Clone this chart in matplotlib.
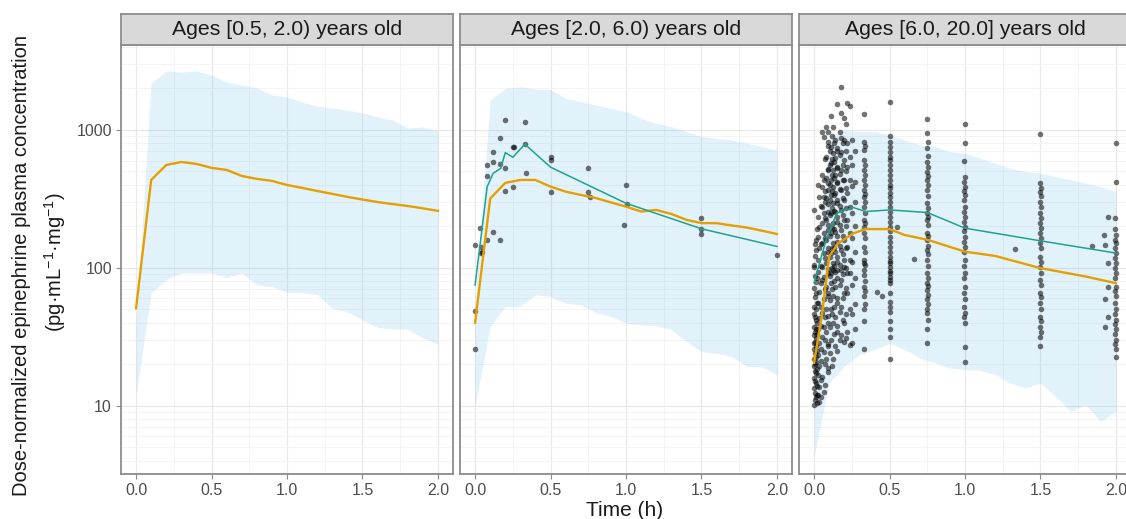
import matplotlib
matplotlib.use("Agg")
import matplotlib.pyplot as plt
from matplotlib.ticker import FixedLocator, LogLocator, NullFormatter

plt.rcParams["font.family"] = ["Liberation Sans", "DejaVu Sans"]
plt.rcParams["mathtext.fontset"] = "custom"
plt.rcParams["mathtext.rm"] = "Liberation Sans"

# ---- data -----------------------------------------------------------------
panel_titles = [
    "Ages [0.5, 2.0) years old",
    "Ages [2.0, 6.0) years old",
    "Ages [6.0, 20.0] years old",
]

# simulated 90% prediction interval, on a 0.1 h grid
band_time = [0.0, 0.1, 0.2, 0.3, 0.4, 0.5, 0.6, 0.7, 0.8, 0.9, 1.0,
             1.1, 1.2, 1.3, 1.4, 1.5, 1.6, 1.7, 1.8, 1.9, 2.0]
band_hi_1 = [40, 2190, 2680, 2630, 2680, 2500, 2230, 2120, 2015, 1794, 1735,
             1595, 1490, 1443, 1396, 1328, 1242, 1181, 1034, 1051, 984]
band_lo_1 = [12, 66, 82, 92, 92, 92, 85, 92, 75, 73, 67,
             66, 64, 51, 48, 42, 37, 36, 36, 31, 28]
band_hi_2 = [55, 1650, 2000, 2060, 1972, 1972, 1695, 1603, 1517, 1436, 1358,
             1216, 1118, 1057, 972, 894, 870, 847, 801, 757, 716]
band_lo_2 = [10, 37.6, 52.5, 52.6, 63.7, 61.9, 55.4, 53.9, 47.5, 44.4, 39.7,
             38.6, 38, 35.6, 29.3, 24.7, 24, 22.7, 19.3, 19.1, 16.8]
band_hi_3 = [40, 894, 1000, 972, 972, 920, 847, 778, 757, 696, 678,
             623, 574, 527, 499, 485, 459, 434, 411, 388, 357]
band_lo_3 = [4.3, 14.6, 19.3, 23.4, 25.5, 28.5, 25.5, 22.2, 20.4, 18.8, 18.3,
             18.1, 16.8, 14.6, 13.5, 14.6, 11.7, 9.1, 10.2, 7.7, 9.1]

# simulated median
med_time_1 = band_time
med_conc_1 = [51, 434, 557, 586, 567, 531, 513, 464, 442, 427, 399,
              380, 361, 344, 327, 313, 300, 290, 281, 270, 259]
med_time_2 = band_time
med_conc_2 = [40, 318, 413, 434, 434, 388, 357, 338, 321, 298, 278,
              256, 263, 246, 223, 211, 211, 203, 196, 186, 176]
med_time_3 = [0.0, 0.05, 0.1, 0.16, 0.26, 0.34, 0.5, 0.6, 0.75, 1.0,
              1.2, 1.5, 1.8, 2.0]
med_conc_3 = [20.5, 44, 121, 151, 178, 191, 191, 173, 160, 131,
              122, 99.5, 86.5, 77.4]

# observed mean
obs_mean_time_2 = [0.0, 0.08, 0.12, 0.17, 0.2, 0.25, 0.33, 0.5, 1.0, 1.5, 2.0]
obs_mean_conc_2 = [75, 388, 485, 527, 685, 634, 788, 537, 294, 192, 143]
obs_mean_time_3 = [0.0, 0.08, 0.15, 0.26, 0.34, 0.5, 0.75, 1.0, 1.5, 2.0]
obs_mean_conc_3 = [78, 160, 249, 274, 256, 263, 252, 194, 157, 128]

# observed concentrations, ages 2-6
obs_time_2 = [0.0, 0.035, 0.04, 0.04, 0.08, 0.08, 0.08, 0.12, 0.12, 0.12,
              0.165, 0.165, 0.165, 0.2, 0.2, 0.2, 0.25, 0.255, 0.25, 0.33,
              0.33, 0.335, 0.5, 0.5, 0.505, 0.75, 0.75, 0.76, 1.0, 1.005,
              0.99, 1.5, 1.5, 1.5, 2.0, 0.0, 0.0, 0.045]
obs_conc_2 = [147, 194, 141, 129, 557, 466, 158, 693, 590, 182,
              871, 568, 158, 533, 1181, 363, 757, 757, 385, 1136,
              788, 491, 641, 607, 357, 527, 357, 329, 399, 291,
              203, 228, 191, 176, 124, 48.7, 25.8, 131]

# observed concentrations, ages 6-20, grouped by sampling time
obs3_times = [0.0, 0.005, 0.01, 0.02, 0.025, 0.035, 0.045, 0.05, 0.065,
              0.07, 0.08, 0.09, 0.095, 0.105, 0.11, 0.12, 0.125, 0.135,
              0.14, 0.15, 0.155, 0.17, 0.18, 0.19, 0.195, 0.21, 0.22,
              0.235, 0.25, 0.27,
              0.33, 0.335, 0.5, 0.505, 0.75, 0.755, 1.0, 0.995,
              1.5, 1.505, 1.93, 1.95, 2.0, 1.995]
obs3_conc = [
    [101, 72, 52, 46, 37.5, 32.5, 28.5, 26, 21.7, 19.3, 16, 13.5, 10.2, 263, 105],
    [88, 61, 44, 34, 29, 24, 20, 17.8, 15, 12.4, 11, 150, 122],
    [79, 66, 50, 42, 36, 31, 27, 22.6, 20.6, 17.4, 14.6, 11.6, 135, 160],
    [56, 40, 33, 25, 18.5, 14, 12, 10.5, 190, 85],
    [400, 235, 168, 114, 93, 56, 36, 23.4, 16.8, 12],
    [327, 198, 140, 67, 43, 28.5, 19.3, 13.7, 10.6],
    [280, 150, 104, 78, 52, 38, 26, 21, 15.5, 11.5],
    [967, 472, 386, 277, 212, 152, 101, 82, 47, 31.6, 16.2],
    [890, 434, 327, 250, 179, 128, 86, 59, 37.5, 24.6, 12.5],
    [620, 360, 300, 230, 165, 118, 70, 44, 30, 20, 14.2],
    [1051, 637, 449, 321, 223, 160, 109, 73, 50, 34, 21.7],
    [760, 520, 410, 290, 205, 140, 98, 66, 45, 28, 17.5],
    [972, 819, 513, 367, 255, 188, 131, 92, 62, 40, 27, 18.9],
    [700, 560, 400, 310, 240, 170, 120, 88, 58, 37, 24],
    [1263, 753, 576, 434, 338, 250, 179, 128, 92, 78, 50, 30],
    [900, 620, 470, 360, 270, 195, 140, 100, 70, 46, 19.5],
    [1057, 681, 513, 386, 296, 212, 152, 109, 97, 62, 40, 21.9],
    [800, 590, 450, 340, 260, 190, 140, 103, 80, 52, 33],
    [846, 627, 472, 350, 255, 182, 131, 93, 73, 44, 27],
    [700, 530, 420, 310, 235, 170, 120, 85, 60, 38, 25],
    [1543, 740, 540, 413, 296, 216, 155, 111, 97, 56, 34],
    [960, 660, 480, 370, 280, 205, 145, 105, 75, 48, 30],
    [2060, 1335, 875, 693, 513, 367, 263, 188, 135, 97, 82, 52, 32.5],
    [800, 560, 430, 320, 240, 170, 125, 90, 60, 42],
    [1222, 846, 606, 434, 311, 223, 160, 114, 101, 66, 40, 29],
    [1100, 700, 500, 380, 270, 200, 140, 100, 72, 46, 31],
    [1570, 805, 540, 350, 223, 142, 92, 66, 34],
    [1490, 637, 434, 277, 179, 114, 92, 50, 27.7],
    [850, 560, 390, 250, 165, 110, 75, 46, 28.5],
    [700, 420, 300, 200, 130, 85, 55, 36],
    [1306, 819, 716, 606, 513, 434, 367, 327, 277, 223, 198, 179, 142,
     114, 97, 109, 89, 73, 62, 50, 41, 26],
    [760, 560, 470, 400, 345, 300, 250, 210, 165, 130, 105, 80, 68, 55],
    [1604, 819, 693, 606, 513, 434, 379, 327, 277, 235, 198, 168, 142,
     120, 101, 86, 109, 92, 78, 57, 48, 41, 31.6, 21.7],
    [900, 750, 640, 560, 470, 400, 350, 300, 255, 215, 185, 155, 130,
     112, 95, 82, 66, 52, 36],
    [1201, 951, 740, 586, 496, 434, 367, 296, 250, 223, 179, 160, 135,
     114, 92, 78, 69, 59, 50, 47, 36, 28.5],
    [820, 650, 540, 460, 400, 330, 270, 235, 205, 170, 145, 125, 104,
     85, 74, 64, 55, 42],
    [1105, 805, 456, 386, 338, 277, 235, 198, 168, 142, 114, 92, 73,
     59, 47, 40, 26.5, 20.6],
    [600, 420, 360, 310, 255, 215, 185, 155, 130, 104, 84, 66, 52, 44],
    [935, 413, 355, 300, 250, 212, 179, 152, 120, 101, 82, 66, 56,
     44, 37.5, 31.6, 27],
    [380, 330, 275, 230, 195, 165, 140, 110, 92, 75, 61, 50, 41, 34],
    [147, 59, 37],
    [235, 109, 73, 44],
    [805, 420, 173, 152, 128, 109, 92, 73, 62, 50, 42, 36, 30, 26, 22.6],
    [230, 190, 160, 140, 118, 100, 84, 68, 56, 46, 39, 33, 28],
]
# scattered single samples between the main sampling times
obs3_extra_time = [0.42, 0.45, 0.55, 0.66, 1.33, 1.84, 1.92]
obs3_extra_conc = [67, 62, 198, 116, 137, 143, 173]

# ---- style ----------------------------------------------------------------
band_color = "#56B4E9"
median_color = "#E69F00"
obs_color = "#1FA28F"
border_color = "#8C8C8C"
text_grey = "#4D4D4D"

W, H = 1126, 519
fig = plt.figure(figsize=(W / 100, H / 100), dpi=100)
fig.patch.set_facecolor("white")

panel_left = [121, 460, 799]
panel_w = 332
top_px, bottom_px, strip_h = 45, 474, 31

bands = [(band_lo_1, band_hi_1), (band_lo_2, band_hi_2), (band_lo_3, band_hi_3)]
medians = [(med_time_1, med_conc_1), (med_time_2, med_conc_2), (med_time_3, med_conc_3)]

obs3_t, obs3_c = [], []
for t, vals in zip(obs3_times, obs3_conc):
    obs3_t += [t] * len(vals)
    obs3_c += vals
obs3_t += obs3_extra_time
obs3_c += obs3_extra_conc

for i in range(3):
    ax = fig.add_axes([panel_left[i] / W, (H - bottom_px) / H,
                       panel_w / W, (bottom_px - top_px) / H])
    ax.set_yscale("log")
    ax.set_xlim(-0.1, 2.1)
    ax.set_ylim(3.2, 4130)

    ax.xaxis.set_major_locator(FixedLocator([0, 0.5, 1.0, 1.5, 2.0]))
    ax.xaxis.set_minor_locator(FixedLocator([0.25, 0.75, 1.25, 1.75]))
    ax.yaxis.set_major_locator(FixedLocator([10, 100, 1000]))
    ax.yaxis.set_minor_locator(LogLocator(base=10, subs=range(2, 10)))
    ax.yaxis.set_minor_formatter(NullFormatter())
    ax.grid(True, which="major", color="#E8E8E8", lw=0.9)
    ax.grid(True, which="minor", color="#F2F2F2", lw=0.6)
    ax.set_axisbelow(True)

    ax.set_xticklabels(["0.0", "0.5", "1.0", "1.5", "2.0"])
    ax.tick_params(axis="x", which="major", length=3.5, width=0.8,
                   color=border_color, labelsize=11.5, labelcolor=text_grey, pad=3)
    ax.tick_params(which="minor", length=0)
    if i == 0:
        ax.set_yticklabels(["10", "100", "1000"])
        ax.tick_params(axis="y", which="major", length=3.5, width=0.8,
                       color=border_color, labelsize=11.5, labelcolor=text_grey, pad=3)
    else:
        ax.tick_params(axis="y", which="major", length=0, labelleft=False)

    for sp in ax.spines.values():
        sp.set_color(border_color)
        sp.set_linewidth(1.3)

    lo, hi = bands[i]
    ax.fill_between(band_time, lo, hi, color=band_color, alpha=0.17, lw=0)

    if i == 1:
        ax.scatter(obs_time_2, obs_conc_2, s=16, color="black", alpha=0.55, lw=0)
    if i == 2:
        ax.scatter(obs3_t, obs3_c, s=16, color="black", alpha=0.55, lw=0)

    mt, mc = medians[i]
    ax.plot(mt, mc, color=median_color, lw=1.7, solid_joinstyle="round")
    if i == 1:
        ax.plot(obs_mean_time_2, obs_mean_conc_2, color=obs_color, lw=1.1)
    if i == 2:
        ax.plot(obs_mean_time_3, obs_mean_conc_3, color=obs_color, lw=1.1)

    # facet strip
    sax = fig.add_axes([panel_left[i] / W, (H - top_px) / H,
                        panel_w / W, strip_h / H])
    sax.set_facecolor("#D9D9D9")
    sax.set_xticks([])
    sax.set_yticks([])
    for sp in sax.spines.values():
        sp.set_color(border_color)
        sp.set_linewidth(1.3)
    sax.text(0.5, 0.5, panel_titles[i], ha="center", va="center",
             fontsize=15.3, color="#1A1A1A", transform=sax.transAxes)

fig.text(22 / W, 1 - 265 / H, "Dose-normalized epinephrine plasma concentration",
         rotation=90, ha="center", va="center", fontsize=14.5, color="#1A1A1A")
fig.text(55 / W, 1 - 262 / H, r"(pg·mL$^{-1}$·mg$^{-1}$)",
         rotation=90, ha="center", va="center", fontsize=14.5, color="#1A1A1A")
fig.text(625 / W, 1 - 510 / H, "Time (h)", ha="center", va="center",
         fontsize=15, color="#1A1A1A")

fig.savefig("out.png", dpi=100, facecolor="white")
